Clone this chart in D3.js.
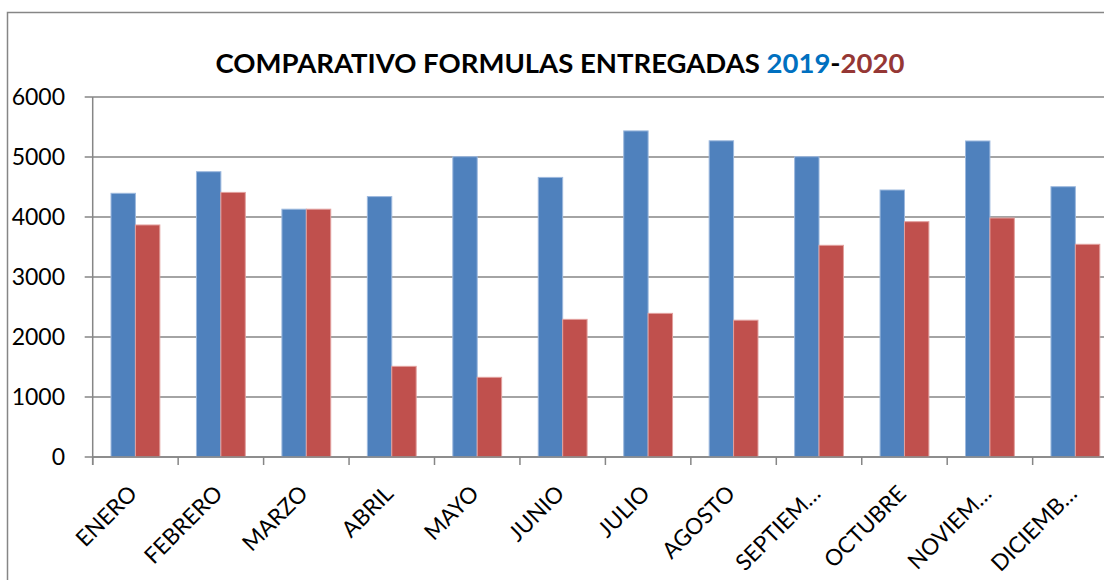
<!DOCTYPE html>
<html>
<head>
<meta charset="utf-8">
<title>Comparativo formulas entregadas 2019-2020</title>
<style>
  body { margin: 0; background: #fff; }
  svg text { font-family: Lato, "Noto Sans", sans-serif; }
</style>
</head>
<body>
<svg id="chart" width="1104" height="580"></svg>
<script src="https://cdn.jsdelivr.net/npm/d3@7/dist/d3.min.js"></script>
<script>
// data
var months = ['ENERO', 'FEBRERO', 'MARZO', 'ABRIL', 'MAYO', 'JUNIO', 'JULIO',
              'AGOSTO', 'SEPTIEMBRE', 'OCTUBRE', 'NOVIEMBRE', 'DICIEMBRE'];
var monthLabels = ['ENERO', 'FEBRERO', 'MARZO', 'ABRIL', 'MAYO', 'JUNIO', 'JULIO',
                   'AGOSTO', 'SEPTIEM…', 'OCTUBRE', 'NOVIEM…', 'DICIEMB…'];
var values2019 = [4395, 4755, 4130, 4340, 5005, 4660, 5435, 5270, 5005, 4450, 5267, 4505];
var values2020 = [3867, 4410, 4130, 1511, 1328, 2294, 2394, 2280, 3528, 3922, 3983, 3545];
var series = ['2019', '2020'];
var yTicks = [0, 1000, 2000, 3000, 4000, 5000, 6000];

var svg = d3.select('#chart');
var colors = { '2019': '#4F81BD', '2020': '#C0504D' };
var strokes = { '2019': '#9DB9DE', '2020': '#E2A09E' };

// outer chart border (runs off the right edge like the original)
svg.append('rect')
    .attr('x', 7.5).attr('y', 12.5)
    .attr('width', 1110).attr('height', 580)
    .attr('fill', 'none').attr('stroke', '#868686').attr('stroke-width', 1.5);

var plotLeft = 92.7, plotTop = 97, plotBottom = 457;
var x = d3.scaleBand().domain(months).range([plotLeft, plotLeft + 85.45 * 12]);
var xs = d3.scaleBand().domain(series).range([0, x.bandwidth()])
    .paddingInner(0).paddingOuter(0.75);
var y = d3.scaleLinear().domain([0, 6000]).range([plotBottom, plotTop]);

// gridlines
svg.append('g').selectAll('line').data(yTicks).join('line')
    .attr('x1', plotLeft - 8).attr('x2', 1104)
    .attr('y1', function (d) { return y(d); })
    .attr('y2', function (d) { return y(d); })
    .attr('stroke', '#868686').attr('stroke-width', 1.5);

// y labels
svg.append('g').selectAll('text').data(yTicks).join('text')
    .attr('x', 65).attr('y', function (d) { return y(d); })
    .attr('dy', '0.35em').attr('text-anchor', 'end')
    .attr('font-size', 23).attr('fill', '#000')
    .text(function (d) { return d; });

// bars
var groups = svg.append('g').selectAll('g').data(months).join('g')
    .attr('transform', function (d) { return 'translate(' + x(d) + ',0)'; });
groups.selectAll('rect')
    .data(function (d, i) {
        return [{ s: '2019', v: values2019[i] }, { s: '2020', v: values2020[i] }];
    })
    .join('rect')
    .attr('x', function (d) { return xs(d.s); })
    .attr('width', xs.bandwidth())
    .attr('y', function (d) { return y(d.v); })
    .attr('height', function (d) { return y(0) - y(d.v); })
    .attr('fill', function (d) { return colors[d.s]; })
    .attr('stroke', function (d) { return strokes[d.s]; })
    .attr('stroke-width', 1);

// axes lines
svg.append('line')
    .attr('x1', plotLeft).attr('x2', plotLeft).attr('y1', plotTop).attr('y2', plotBottom + 8)
    .attr('stroke', '#868686').attr('stroke-width', 1.5);
svg.append('line')
    .attr('x1', plotLeft).attr('x2', 1104).attr('y1', plotBottom).attr('y2', plotBottom)
    .attr('stroke', '#868686').attr('stroke-width', 1.5);
svg.append('g').selectAll('line').data(months).join('line')
    .attr('x1', function (d) { return x(d); }).attr('x2', function (d) { return x(d); })
    .attr('y1', plotBottom).attr('y2', plotBottom + 8)
    .attr('stroke', '#868686').attr('stroke-width', 1.5);

// x labels rotated
svg.append('g').selectAll('text').data(months).join('text')
    .attr('transform', function (d) {
        return 'translate(' + (x(d) + x.bandwidth() / 2 + 3) + ',' + (plotBottom + 38) + ') rotate(-45)';
    })
    .attr('text-anchor', 'end')
    .attr('font-size', 22.5).attr('fill', '#000')
    .text(function (d, i) { return monthLabels[i]; });

// title
var title = svg.append('text')
    .attr('x', 560).attr('y', 73)
    .attr('text-anchor', 'middle')
    .attr('font-size', 27.5).attr('font-weight', 'bold');
title.append('tspan').attr('fill', '#000').text('COMPARATIVO FORMULAS ENTREGADAS ');
title.append('tspan').attr('fill', '#0070C0').text('2019');
title.append('tspan').attr('fill', '#000').text('-');
title.append('tspan').attr('fill', '#953735').text('2020');
</script>
</body>
</html>
